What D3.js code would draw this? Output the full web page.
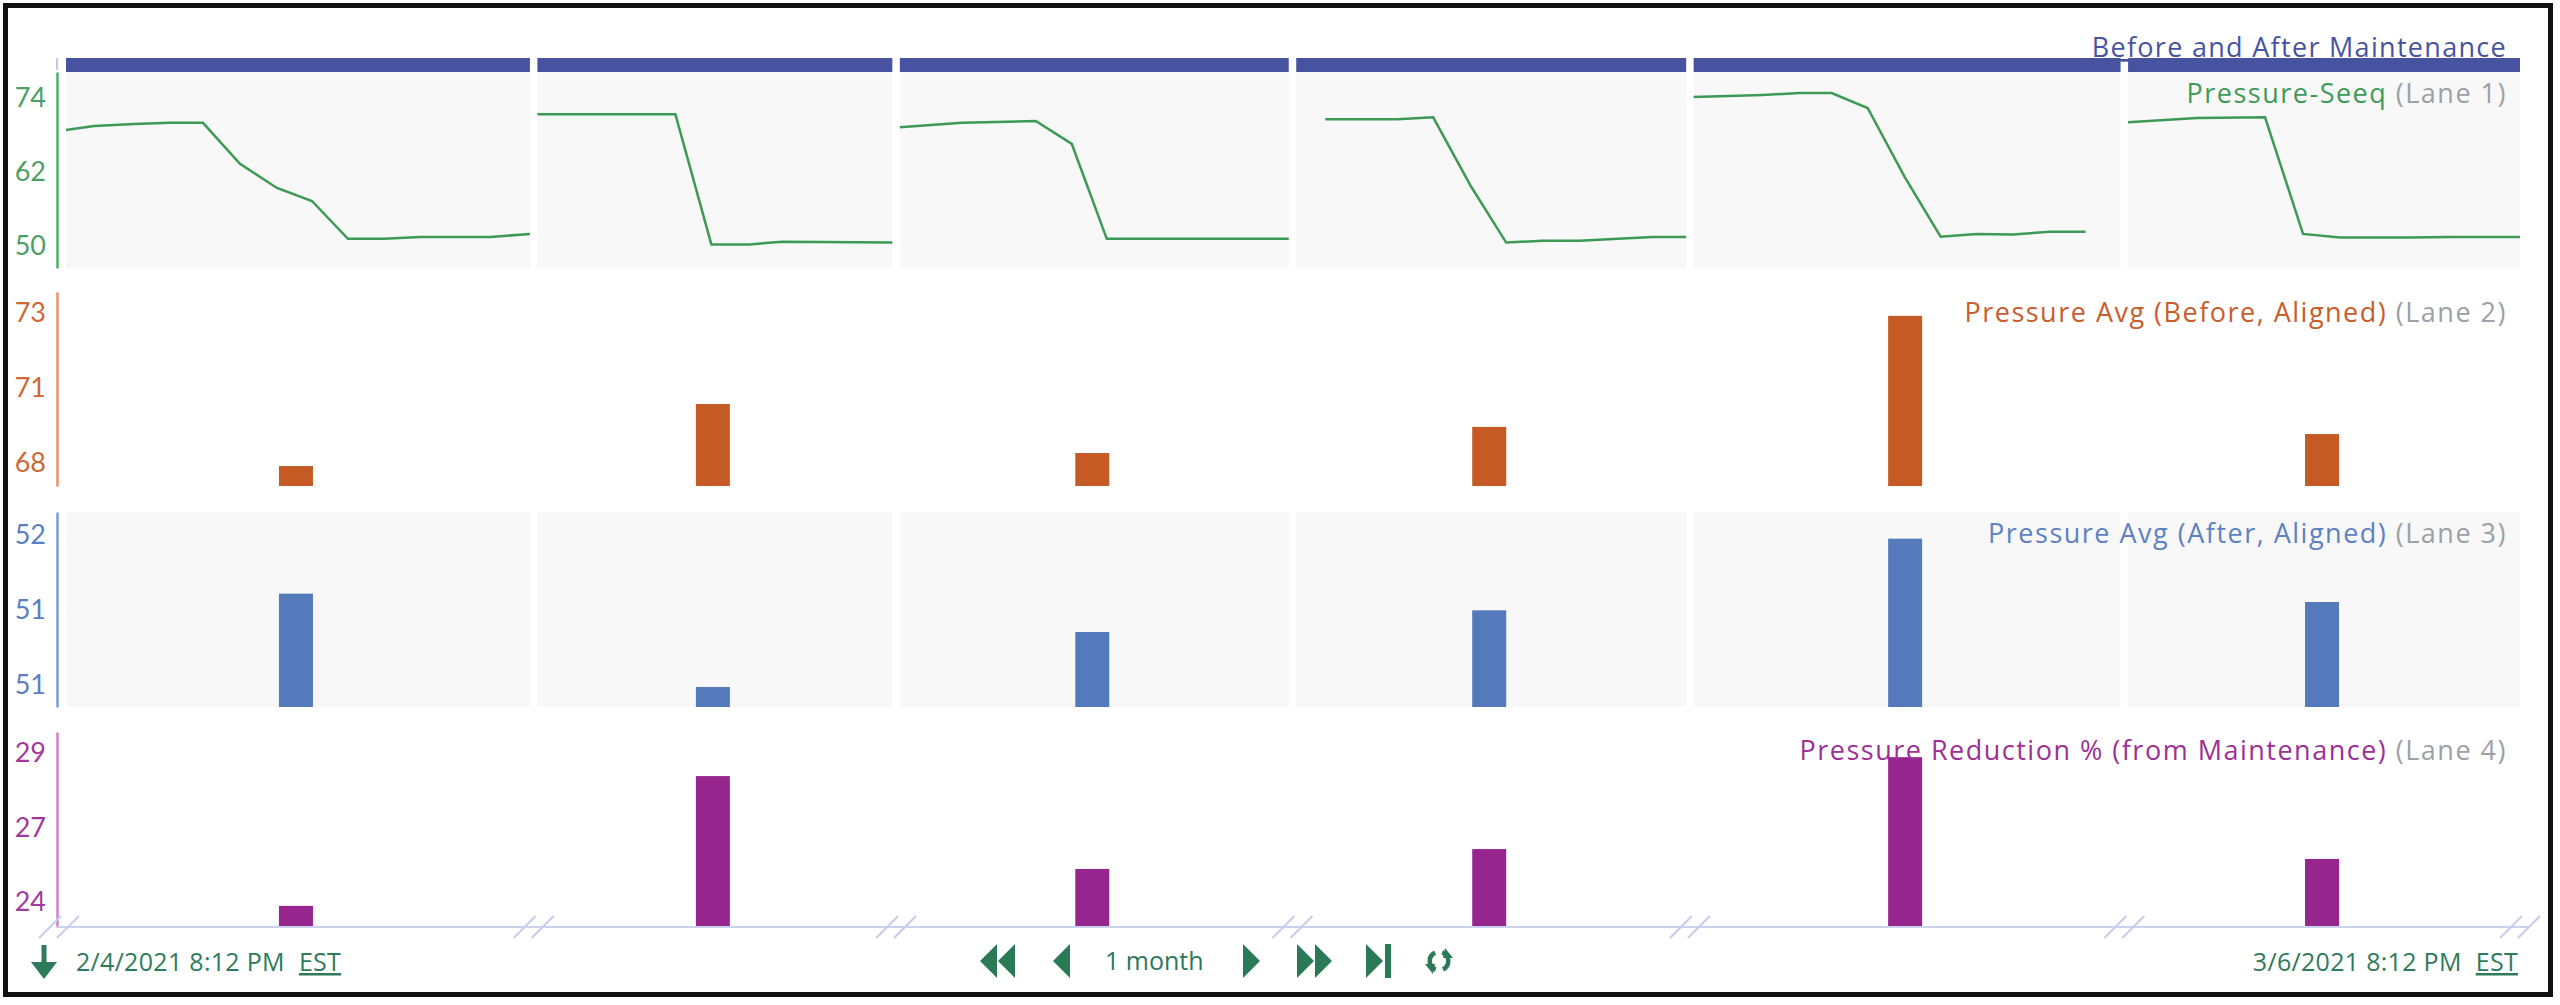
<!DOCTYPE html>
<html>
<head>
<meta charset="utf-8">
<script src="https://cdn.jsdelivr.net/npm/d3@7"></script>
<style>
  body { margin: 0; background: #fff; }
  svg { display: block; font-family: "Open Sans", Lato, sans-serif; }
</style>
</head>
<body>
<svg id="chart" width="2560" height="1005"></svg>
<script>
// capsule durations (hours) - each maintenance event is its own panel
var capsuleHours = [46.4, 35.5, 38.9, 39.0, 42.7, 39.2];

// Lane 1: Pressure-Seeq, [hours since capsule start, value]
var pressureSeeq = [
  [[0,68.75],[2.8,69.4],[6.8,69.7],[10.4,69.9],[13.7,69.9],[17.4,63.3],[21.1,59.4],[24.6,57.3],[28.2,51.2],[31.8,51.2],[35.4,51.5],[38.9,51.5],[42.5,51.5],[46.4,52.0]],
  [[0,71.3],[13.8,71.3],[17.4,50.3],[21.2,50.3],[24.5,50.75],[35.5,50.6]],
  [[0,69.2],[6.2,69.9],[13.6,70.2],[17.2,66.5],[20.7,51.2],[38.9,51.2]],
  [[2.9,70.5],[10.1,70.5],[13.7,70.8],[17.5,59.6],[21.0,50.6],[24.6,50.9],[28.3,50.9],[35.6,51.5],[39.0,51.5]],
  [[0,74.06],[6.9,74.4],[10.6,74.7],[13.8,74.7],[17.4,72.3],[21.1,61.2],[24.7,51.55],[28.3,52.0],[31.9,51.9],[35.6,52.35],[39.2,52.35]],
  [[0,70.0],[6.9,70.7],[13.7,70.8],[17.5,52.0],[21.2,51.4],[28.2,51.4],[32.2,51.5],[39.2,51.5]]
];

// Lanes 2-4: one value per capsule
var avgBefore = [68.21, 70.11, 68.61, 69.41, 72.81, 69.19];
var avgAfter = [51.25, 50.69, 51.02, 51.15, 51.58, 51.20];
var reductionPct = [24.18, 28.36, 25.37, 26.01, 28.97, 25.69];

// axis domains and tick values per lane
var lane1Domain = [46.5, 78.1], lane1Ticks = [50, 62, 74];
var lane2Domain = [67.6, 73.54], lane2Ticks = [68.3, 70.6, 72.9];
var lane3Domain = [50.57, 51.74], lane3Ticks = [50.7, 51.15, 51.6];
var lane4Domain = [23.5, 29.78], lane4Ticks = [24.3, 26.7, 29.1];

var conditionName = "Before and After Maintenance";
var startLabel = "2/4/2021 8:12 PM", endLabel = "3/6/2021 8:12 PM", zoneLabel = "EST";
var rangeLabel = "1 month";

var svg = d3.select("#chart");

// frame
svg.append("rect").attr("x", 5.5).attr("y", 5.5).attr("width", 2545).attr("height", 989)
  .attr("fill", "#fff").attr("stroke", "#111").attr("stroke-width", 5);

var plotLeft = 66, plotRight = 2520, gap = 7.5, axisX = 57;
var totalH = d3.sum(capsuleHours);
var pph = (plotRight - plotLeft - gap * (capsuleHours.length - 1)) / totalH;

// one x scale per capsule
var xScales = [];
var start = plotLeft;
capsuleHours.forEach(function(h) {
  xScales.push(d3.scaleLinear().domain([0, h]).range([start, start + h * pph]));
  start += h * pph + gap;
});

var lanes = [
  {top: 72, bottom: 268, domain: lane1Domain, ticks: lane1Ticks, shade: true, labelDy: 31,
   tick: "#4e9f65", axis: "#4caf6a", name: "Pressure-Seeq", nameColor: "#3f9a57", lane: "(Lane 1)"},
  {top: 292, bottom: 486, domain: lane2Domain, ticks: lane2Ticks, shade: false, labelDy: 30,
   tick: "#cc6a37", axis: "#e4936a", name: "Pressure Avg (Before, Aligned)", nameColor: "#c75e2c", lane: "(Lane 2)", data: avgBefore, bar: "#c55a25"},
  {top: 512, bottom: 707, domain: lane3Domain, ticks: lane3Ticks, shade: true, labelDy: 31,
   tick: "#5b80c2", axis: "#7d9bd4", name: "Pressure Avg (After, Aligned)", nameColor: "#5d82c3", lane: "(Lane 3)", data: avgAfter, bar: "#557abb"},
  {top: 732, bottom: 927, domain: lane4Domain, ticks: lane4Ticks, shade: false, labelDy: 28,
   tick: "#a23a9b", axis: "#d07fc9", name: "Pressure Reduction % (from Maintenance)", nameColor: "#9d2f95", lane: "(Lane 4)", data: reductionPct, bar: "#96268d"}
];

lanes.forEach(function(l) {
  l.y = d3.scaleLinear().domain(l.domain).range([l.bottom, l.top]);
});

// condition capsules (top bar)
svg.selectAll("rect.cond").data(capsuleHours).enter().append("rect")
  .attr("class", "cond")
  .attr("x", function(d, i) { return xScales[i](0); })
  .attr("width", function(d, i) { return xScales[i](d) - xScales[i](0); })
  .attr("y", 58).attr("height", 14)
  .attr("fill", "#4753a1");
svg.append("line").attr("x1", axisX).attr("x2", axisX).attr("y1", 58).attr("y2", 70)
  .attr("stroke", "#c3c9e8").attr("stroke-width", 2);

lanes.forEach(function(l, li) {
  var g = svg.append("g");
  if (l.shade) {
    g.selectAll("rect.bg").data(capsuleHours).enter().append("rect")
      .attr("x", function(d, i) { return xScales[i](0); })
      .attr("width", function(d, i) { return xScales[i](d) - xScales[i](0); })
      .attr("y", l.top).attr("height", l.bottom - l.top)
      .attr("fill", "#f8f8f8");
  }
  var axis = d3.axisLeft(l.y).tickValues(l.ticks).tickFormat(d3.format(".0f")).tickSize(0).tickPadding(11);
  var ag = g.append("g").attr("transform", "translate(" + axisX + ",0)").call(axis);
  ag.select(".domain").attr("stroke", l.axis).attr("stroke-width", 2.5);
  ag.selectAll("text").attr("fill", l.tick).attr("font-size", 27)
    .attr("font-family", "Lato, 'Open Sans', sans-serif");

  if (l.data) {
    g.selectAll("rect.bar").data(l.data).enter().append("rect")
      .attr("x", function(d, i) { var s = xScales[i]; return (s(0) + s(capsuleHours[i])) / 2 - 19; })
      .attr("width", 34)
      .attr("y", function(d) { return l.y(d); })
      .attr("height", function(d) { return l.bottom - l.y(d); })
      .attr("fill", l.bar);
  } else {
    var line = d3.line();
    pressureSeeq.forEach(function(pts, i) {
      g.append("path")
        .attr("d", line(pts.map(function(p) { return [xScales[i](p[0]), l.y(p[1])]; })))
        .attr("fill", "none").attr("stroke", "#3d9a55").attr("stroke-width", 2.5);
    });
  }
});

// lane labels on the right
lanes.forEach(function(l) {
  var t = svg.append("text").attr("x", 2507).attr("y", l.top + l.labelDy)
    .attr("text-anchor", "end").attr("font-size", 27).attr("letter-spacing", 1.5);
  t.append("tspan").text(l.name).attr("fill", l.nameColor);
  t.append("tspan").text(" " + l.lane).attr("fill", "#9ba1a5");
});

svg.append("text").attr("x", 2507).attr("y", 57).attr("text-anchor", "end")
  .attr("font-size", 27).attr("letter-spacing", 1.3).attr("fill", "#4753a1")
  .attr("text-decoration", "underline")
  .text(conditionName);

// x axis baseline with break marks
var baseY = 927;
svg.append("line").attr("x1", axisX).attr("x2", 2530).attr("y1", baseY).attr("y2", baseY)
  .attr("stroke", "#cbd2ee").attr("stroke-width", 2);
var breaks = [axisX + 2];
for (var i = 1; i < xScales.length; i++) breaks.push((xScales[i - 1].range()[1] + xScales[i].range()[0]) / 2);
breaks.push(plotRight);
breaks.forEach(function(bx) {
  [-9, 9].forEach(function(o) {
    svg.append("line").attr("x1", bx + o - 11).attr("y1", baseY + 11)
      .attr("x2", bx + o + 11).attr("y2", baseY - 11)
      .attr("stroke", "#c5cdec").attr("stroke-width", 2);
  });
});

// footer
var green = "#2e7b5b";
svg.append("path").attr("d", "M44,945 L44,966").attr("stroke", green).attr("stroke-width", 5);
svg.append("path").attr("d", "M31,962 L57,962 L44,979 Z").attr("fill", green);
var ft = svg.append("text").attr("x", 76).attr("y", 971).attr("font-size", 25)
  .attr("letter-spacing", 0.3).attr("fill", green);
ft.append("tspan").text(startLabel);
ft.append("tspan").text(zoneLabel).attr("dx", 14).attr("text-decoration", "underline");
var rt = svg.append("text").attr("x", 2518).attr("y", 971).attr("font-size", 25)
  .attr("letter-spacing", 0.3).attr("fill", green).attr("text-anchor", "end");
rt.append("tspan").text(endLabel);
rt.append("tspan").text(zoneLabel).attr("dx", 14).attr("text-decoration", "underline");

// navigation buttons
var nav = svg.append("g").attr("fill", "#2a7a57");
function tri(x, dir) { // dir -1 left, 1 right
  var w = 17, h = 17;
  return dir < 0 ? "M" + x + ",961 L" + (x + w) + "," + (961 - h) + " L" + (x + w) + "," + (961 + h) + " Z"
                 : "M" + (x + w) + ",961 L" + x + "," + (961 - h) + " L" + x + "," + (961 + h) + " Z";
}
nav.append("path").attr("d", tri(980, -1) + tri(998, -1));
nav.append("path").attr("d", tri(1053, -1));
nav.append("text").attr("x", 1105).attr("y", 970).attr("font-size", 25).text(rangeLabel);
nav.append("path").attr("d", tri(1243, 1));
nav.append("path").attr("d", tri(1297, 1) + tri(1315, 1));
nav.append("path").attr("d", tri(1366, 1));
nav.append("rect").attr("x", 1385).attr("y", 944).attr("width", 6).attr("height", 34);
var arc = d3.arc().innerRadius(7).outerRadius(11.5);
var rf = nav.append("g").attr("transform", "translate(1439,961)");
rf.append("path").attr("d", arc({startAngle: 0.35, endAngle: 2.7}));
rf.append("path").attr("d", arc({startAngle: 3.5, endAngle: 5.85}));
rf.append("path").attr("d", "M6,-13 L14,-3 L4,-3 Z");
rf.append("path").attr("d", "M-6,13 L-14,3 L-4,3 Z");
</script>
</body>
</html>
